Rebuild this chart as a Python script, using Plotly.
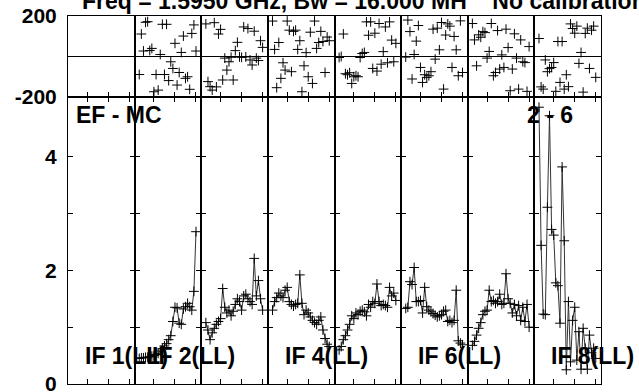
import plotly.graph_objects as go
from plotly.subplots import make_subplots

# ---------------- data ----------------
channels = list(range(3, 31))  # 28 channels per IF
if_labels = ["IF 1(LL)", "IF 2(LL)", "", "IF 4(LL)", "", "IF 6(LL)", "", "IF 8(LL)"]
title_text = "Freq = 1.5950 GHz, Bw = 16.000 MH\u00a0\u00a0\u00a0\u00a0No calibration"
baseline_label = "EF - MC"
stokes_label = "2 - 6"

amp_if1 = []
amp_if2 = [0.45, 0.46, 0.46, 0.47, 0.47, 0.48, 0.49, 0.50, 0.52, 0.54, 0.58, 0.62, 0.67, 0.71,
           0.78, 0.85, 1.10, 1.35, 1.34, 1.07, 1.05, 1.32, 1.36, 1.42, 1.36, 1.30, 1.63, 2.68]
amp_if3 = [1.08, 0.95, 0.78, 0.90, 0.98, 1.05, 1.10, 1.15, 1.68, 1.35, 1.25, 1.30, 1.20, 1.28,
           1.40, 1.50, 1.45, 1.30, 1.55, 1.58, 1.50, 1.45, 1.40, 2.21, 1.55, 1.82, 1.50, 1.30]
amp_if4 = [1.30, 1.45, 1.52, 1.60, 1.55, 1.52, 1.65, 1.70, 1.45, 1.40, 1.37, 1.40, 1.42, 1.92,
           1.42, 1.22, 1.30, 1.25, 1.18, 1.12, 1.08, 1.05, 1.12, 1.18, 0.95, 0.80, 0.70, 0.66]
amp_if5 = [0.60, 0.66, 0.78, 0.85, 0.95, 1.05, 1.20, 1.15, 1.25, 1.22, 1.28, 1.30, 1.27, 1.20,
           1.40, 1.35, 1.45, 1.42, 1.76, 1.45, 1.38, 1.40, 1.38, 1.35, 1.70, 1.55, 1.60, 1.47]
amp_if6 = [1.33, 1.35, 1.80, 1.75, 2.05, 1.45, 1.45, 1.47, 1.25, 1.70, 1.36, 1.30, 1.27, 1.24,
           1.21, 1.18, 1.20, 1.22, 1.28, 1.30, 1.10, 1.12, 1.08, 1.12, 1.65, 0.76, 0.72, 0.69]
amp_if7 = [0.68, 0.75, 0.86, 0.98, 1.08, 1.22, 1.28, 1.30, 1.65, 1.45, 1.47, 1.42, 1.45, 1.58,
           1.40, 1.42, 1.94, 1.50, 1.42, 1.25, 1.40, 1.20, 1.38, 1.12, 1.35, 1.10, 1.40, 1.00]
amp_if8 = [4.87, 2.44, 1.23, 1.22, 3.11, 4.72, 2.72, 2.62, 1.78, 1.73, 1.07, 3.82, 2.52, 0.25,
           1.45, 0.39, 1.12, 1.35, 0.42, 0.92, 0.26, 0.98, 0.63, 0.26, 0.86, 0.55, 0.63, 0.45]

phs_if1 = []
phs_if2 = [-89, 111, 27, 169, 172, 30, 40, -174, -89, -166, 10, 159, -89, 159,
           -119, -26, -59, 65, -141, -79, 20, 101, -108, -100, -162, 114, 156, 27]
phs_if3 = [161, -124, -149, -166, 167, -150, 111, 134, -116, -8, -67, -26, -4, -116,
           29, 70, -2, -4, 146, -2, 138, -17, -42, 125, -8, -20, 78, 45]
phs_if4 = [175, 35, -154, 69, -108, -31, -67, 175, 130, -75, 124, 130, 35, 78,
           -174, -46, 19, -100, 120, -133, 175, 40, 69, 124, 74, -79, 96, 78]
phs_if5 = [-5, 0, 111, -85, -90, -80, -133, -100, -95, -100, -5, 15, 20, 171,
           105, 171, -59, 115, -72, 163, -38, 24, 146, -31, 171, 81, -26, 65]
phs_if6 = [-3, 180, 123, -111, 10, 76, 153, -54, -128, -90, -103, -95, -75, 135,
           -13, 140, 33, 168, -161, 106, 161, 150, -54, 99, 33, -95, 176, -79]
phs_if7 = [163, 82, -46, 107, 95, 123, 118, -8, 25, 163, -95, -79, 128, -62,
           8, -54, 135, 44, -169, -62, 112, -8, -161, 82, -26, -30, -172, 49]
phs_if8 = [89, -150, -161, -17, -75, -60, -54, -30, -172, 74, -128, 74, -161, -90,
           -149, 161, 138, 115, 150, -34, 20, -176, 114, 140, -59, 130, 150, -103]

amp_all = [amp_if1, amp_if2, amp_if3, amp_if4, amp_if5, amp_if6, amp_if7, amp_if8]
phs_all = [phs_if1, phs_if2, phs_if3, phs_if4, phs_if5, phs_if6, phs_if7, phs_if8]

amp_ticks = [0, 1, 2, 3, 4]
amp_ticktext = ["0", "", "2", "", "4"]
phs_ticks = [-200, 200]
phs_ticktext = ["-200", "200"]
chan_ticks = [10, 20, 30]

# ---------------- figure ----------------
W, H = 639, 392
ML, MR, MT, MB = 68, 38, 16, 8
PW = W - ML - MR
PH = H - MT - MB
top_h = 81

fig = make_subplots(rows=2, cols=8, horizontal_spacing=0, vertical_spacing=0,
                    row_heights=[top_h / PH, (PH - top_h) / PH])

mk = dict(symbol="cross-thin", size=7, color="black", line=dict(width=1, color="black"))

for i in range(8):
    col = i + 1
    xs = channels if phs_all[i] else [None]
    fig.add_trace(go.Scatter(x=xs, y=phs_all[i] or [None], mode="markers", marker=mk,
                             showlegend=False, hoverinfo="skip"), row=1, col=col)
    xs = channels if amp_all[i] else [None]
    fig.add_trace(go.Scatter(x=xs, y=amp_all[i] or [None], mode="lines+markers", marker=mk,
                             line=dict(color="#333333", width=1),
                             showlegend=False, hoverinfo="skip"), row=2, col=col)

tickfont = dict(family="Liberation Sans, Arial, sans-serif", size=21, color="black", weight="bold")
lblfont = dict(family="Liberation Sans, Arial, sans-serif", size=23, color="black", weight="bold")

for i in range(8):
    col = i + 1
    fig.update_xaxes(range=[0.8, 32.5], tickvals=chan_ticks, showticklabels=False,
                     ticks="inside", ticklen=5, tickcolor="black", tickwidth=1,
                     showline=True, linecolor="black", linewidth=1, mirror=True,
                     showgrid=False, zeroline=False, row=1, col=col)
    fig.update_xaxes(range=[0.8, 32.5], tickvals=chan_ticks, showticklabels=False,
                     ticks="inside", ticklen=5, tickcolor="black", tickwidth=1,
                     showline=True, linecolor="black", linewidth=1, mirror="ticks",
                     showgrid=False, zeroline=False, row=2, col=col)
    fig.update_yaxes(range=[-200, 200], tickvals=phs_ticks, ticktext=phs_ticktext,
                     showticklabels=(col == 1), tickfont=tickfont, ticklabelstandoff=6,
                     ticklabeloverflow="allow",
                     ticks="inside", ticklen=5, tickcolor="black",
                     showline=True, linecolor="black", linewidth=1, mirror="ticks",
                     showgrid=False, zeroline=True, zerolinecolor="black", zerolinewidth=1,
                     row=1, col=col)
    fig.update_yaxes(range=[0, 5.05], tickvals=amp_ticks, ticktext=amp_ticktext,
                     showticklabels=(col == 1), tickfont=tickfont, ticklabelstandoff=6,
                     ticklabeloverflow="allow",
                     ticks="inside", ticklen=5, tickcolor="black",
                     showline=True, linecolor="black", linewidth=1, mirror="ticks",
                     showgrid=False, zeroline=False, row=2, col=col)

def px2x(px):
    return (px - ML) / PW

def py2y(py):
    return (H - MB - py) / PH

annotations = []
annotations.append(dict(text=title_text, xref="paper", yref="paper", x=px2x(80), y=py2y(16),
                        xanchor="left", yanchor="bottom", showarrow=False, font=lblfont))
annotations.append(dict(text=baseline_label, xref="paper", yref="paper", x=px2x(74), y=py2y(115.5),
                        xanchor="left", yanchor="middle", showarrow=False, font=lblfont))
annotations.append(dict(text=stokes_label, xref="paper", yref="paper", x=px2x(575), y=py2y(115.5),
                        xanchor="right", yanchor="middle", showarrow=False, font=lblfont))
for i, lab in enumerate(if_labels):
    if lab:
        annotations.append(dict(text=lab, xref="paper", yref="paper",
                                x=i / 8 + px2x(ML + 15), y=py2y(356),
                                xanchor="left", yanchor="middle", showarrow=False, font=lblfont))

fig.update_layout(width=W, height=H, margin=dict(l=ML, r=MR, t=MT, b=MB, autoexpand=False),
                  paper_bgcolor="white", plot_bgcolor="white", annotations=annotations,
                  showlegend=False)

fig.write_html("out.html", config={"displayModeBar": False},
               post_script="document.body.style.margin='0';document.body.style.overflow='hidden';")
